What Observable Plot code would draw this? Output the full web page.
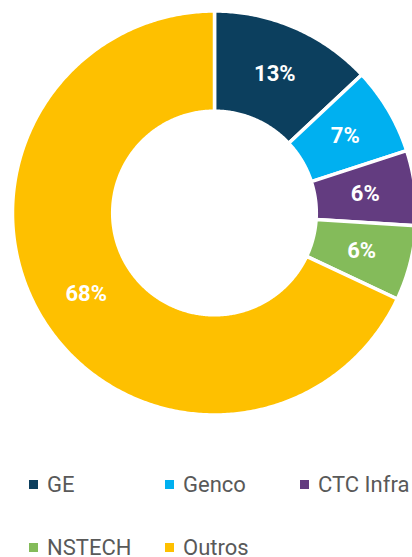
<!DOCTYPE html>
<html>
<head>
<meta charset="utf-8">
<script src="https://cdn.jsdelivr.net/npm/d3@7"></script>
<script src="https://cdn.jsdelivr.net/npm/@observablehq/plot@0.6"></script>
<style>
  html, body { margin: 0; padding: 0; background: #ffffff; }
  body { width: 412px; height: 557px; overflow: hidden; font-family: Roboto, "Noto Sans", sans-serif; }
  #legend { position: relative; margin-top: 28px; padding-left: 29px; display: grid; grid-template-columns: 136px 135px 112px; width: 412px; box-sizing: border-box; }
  .item { height: 63px; display: flex; align-items: center; white-space: nowrap; font-size: 22px; color: #595959; }
  .sw { width: 9px; height: 9px; margin-right: 9px; flex: none; }
</style>
</head>
<body>
<div id="chart"></div>
<div id="legend"></div>
<script>
const categories = ["GE", "Genco", "CTC Infra", "NSTECH", "Outros"];
const shares = [13, 7, 6, 6, 68];
const labels = ["13%", "7%", "6%", "6%", "68%"];
const colors = ["#0c3f5e", "#00b0f0", "#633c80", "#84bb5a", "#fec000"];

const R_OUT = 1.01, R_IN = 0.509;
const total = d3.sum(shares);
const polys = [];
const labelPts = [];
let acc = 0;
categories.forEach((name, i) => {
  const a0 = acc / total * 2 * Math.PI;
  acc += shares[i];
  const a1 = acc / total * 2 * Math.PI;
  const n = Math.max(4, Math.ceil((a1 - a0) / 0.01));
  const pts = [];
  for (let k = 0; k <= n; k++) {
    const a = a0 + (a1 - a0) * k / n;
    pts.push({name, x: R_OUT * Math.sin(a), y: R_OUT * Math.cos(a)});
  }
  for (let k = n; k >= 0; k--) {
    const a = a0 + (a1 - a0) * k / n;
    pts.push({name, x: R_IN * Math.sin(a), y: R_IN * Math.cos(a)});
  }
  pts.push({...pts[0]});
  polys.push(...pts);
  const am = (a0 + a1) / 2, rm = (R_OUT + R_IN) / 2;
  labelPts.push({name, text: labels[i], x: rm * Math.sin(am), y: rm * Math.cos(am)});
});

const chart = Plot.plot({
  width: 412,
  height: 425,
  margin: 0,
  x: {domain: [-1.07, 0.99], axis: null},
  y: {domain: [-1.0625, 1.0625], axis: null},
  color: {domain: categories, range: colors},
  style: {background: "white"},
  marks: [
    Plot.line(polys, {x: "x", y: "y", z: "name", fill: "name", stroke: "white", strokeWidth: 3.5, strokeLinejoin: "round", curve: "linear"}),
    Plot.text(labelPts, {x: "x", y: "y", text: "text", fill: "white", fontSize: 22, fontWeight: "bold", fontFamily: "Roboto, sans-serif"})
  ]
});
document.getElementById("chart").appendChild(chart);

const legend = document.getElementById("legend");
categories.forEach((name, i) => {
  const item = document.createElement("div");
  item.className = "item";
  const sw = document.createElement("span");
  sw.className = "sw";
  sw.style.background = colors[i];
  const t = document.createElement("span");
  t.textContent = name;
  item.appendChild(sw);
  item.appendChild(t);
  legend.appendChild(item);
});
</script>
</body>
</html>
